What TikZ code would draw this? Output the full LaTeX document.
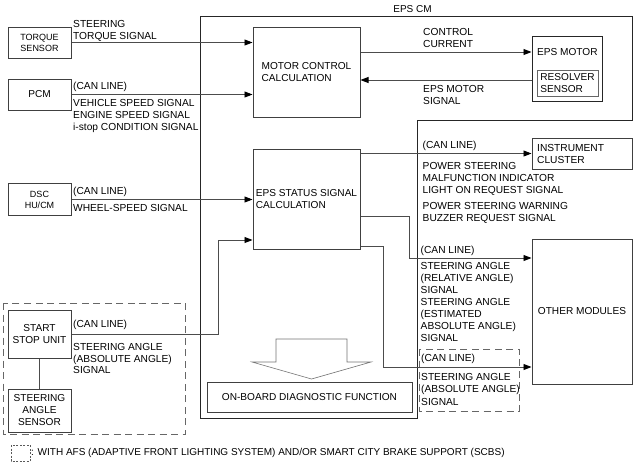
\documentclass[tikz,border=0pt]{standalone}
\usepackage{fontspec}
\setmainfont{Liberation Sans}
\usetikzlibrary{arrows.meta}
\begin{document}
\begin{tikzpicture}[x=1pt,y=-1pt,
  box/.style={draw=black!75, line width=1pt, inner sep=0pt, align=center,
    font=\fontsize{10.1}{12}\selectfont},
  smallbox/.style={box, font=\fontsize{9}{11}\selectfont},
  lbl/.style={font=\fontsize{10.2}{12}\selectfont, align=left, inner sep=0pt, anchor=north west},
  conn/.style={draw=black!70, line width=0.9pt},
  arr/.style={conn, -{Triangle[length=8pt,width=6pt,color=black]}},
  dashbox/.style={draw=black!60, line width=0.9pt, dash pattern=on 7pt off 4.5pt},
  frame/.style={draw=black!85, line width=1pt}]
\useasboundingbox (0,0) rectangle (634,464);

% EPS CM frame
\draw[frame] (200,16) -- (632,16) -- (632,120) -- (417,120) -- (417,418) -- (200,418) -- cycle;
\node[font=\fontsize{10}{12}\selectfont, inner sep=0pt] (epscm) at (412.5,9) {EPS CM};

% dashed optional groups
\draw[dashbox] (3,303) rectangle (185,434);
\draw[dashbox] (419,349) rectangle (519,411);

% left boxes
\node[smallbox, minimum width=63pt, minimum height=31pt] (torque) at (39.5,42.5) {TORQUE\\SENSOR};
\node[box, minimum width=63pt, minimum height=31pt] (pcm) at (39.5,94.5) {PCM};
\node[smallbox, minimum width=63pt, minimum height=32pt] (dsc) at (39.5,199.5) {DSC\\HU/CM};
\node[box, minimum width=63pt, minimum height=48pt] (ssu) at (39.5,334) {START\\STOP UNIT};
\node[box, minimum width=63pt, minimum height=43pt] (sas) at (39.5,410.5) {STEERING\\ANGLE\\SENSOR};

% inner EPS CM boxes
\node[box, align=left, minimum width=107pt, minimum height=90pt] (motor) at (306.5,72) {MOTOR CONTROL\\CALCULATION};
\node[box, align=left, minimum width=107pt, minimum height=100pt] (status) at (306.5,199) {EPS STATUS SIGNAL\\CALCULATION};
\node[box, minimum width=205pt, minimum height=30pt] (obd) at (309.5,397) {ON-BOARD DIAGNOSTIC FUNCTION};

% right boxes
\node[box, draw=black!85, minimum width=70pt, minimum height=65pt] (epsmotor) at (567,68.5) {};
\node[font=\fontsize{10.1}{12}\selectfont, inner sep=0pt, anchor=west] (epsmotortxt) at (537,52) {EPS MOTOR};
\node[box, align=left, draw=black!60, minimum width=61pt, minimum height=26pt] (resolver) at (567.5,83) {RESOLVER\\SENSOR};
\node[box, minimum width=100pt, minimum height=31pt] (instrument) at (582,153.5) {};
\node[lbl] (instrtxt) at (537,144.4) {INSTRUMENT\\CLUSTER};
\node[box, minimum width=100pt, minimum height=145pt] (other) at (582,311.5) {OTHER MODULES};

% block arrow
\draw[draw=black!55, line width=0.6pt, fill=white] (276,339) -- (347,339) -- (347,362) -- (371,362)
  -- (311.5,379) -- (252,362) -- (276,362) -- cycle;

% connectors
\draw[arr] (torque.east) -- (torque.east -| motor.west);
\draw[arr] (pcm.east) -- (pcm.east -| motor.west);
\draw[arr] (dsc.east) -- (dsc.east -| status.west);
\coordinate (j1) at (218,240);
\draw[arr] (ssu.east) -| (j1) -- (j1 -| status.west);
\draw[conn] (ssu.south) -- (sas.north);
\draw[arr] ([yshift=20pt]motor.east) coordinate (m1) -- (m1 -| epsmotor.west);
\draw[arr] ([yshift=-8pt]motor.east -| epsmotor.west) -- ([yshift=-8pt]motor.east);
\draw[arr] (instrument.west -| status.east) -- (instrument.west);
\coordinate (k1) at (409,258);
\draw[arr] ([yshift=-17pt]status.east) -| (k1) -- (k1 -| other.west);
\coordinate (k2) at (383,367);
\draw[arr] ([yshift=-47pt]status.east) -| (k2) -- (k2 -| other.west);

% labels
\node[lbl] (l1) at (73,20) {STEERING\\TORQUE SIGNAL};
\node[lbl] (l2) at (73,82) {(CAN LINE)};
\node[lbl] (l3) at (73,99.5) {VEHICLE SPEED SIGNAL\\ENGINE SPEED SIGNAL\\i-stop CONDITION SIGNAL};
\node[lbl] (l4) at (73,186.5) {(CAN LINE)};
\node[lbl] (l5) at (73,204.5) {WHEEL-SPEED SIGNAL};
\node[lbl] (l6) at (73,319.5) {(CAN LINE)};
\node[lbl, font=\fontsize{10.2}{11.5}\selectfont] (l7) at (73,343.5) {STEERING ANGLE\\(ABSOLUTE ANGLE)\\SIGNAL};
\node[lbl] (l8) at (423,28) {CONTROL\\CURRENT};
\node[lbl] (l9) at (423,84.7) {EPS MOTOR\\SIGNAL};
\node[lbl] (l10) at (422.5,140.5) {(CAN LINE)};
\node[lbl] (l11) at (422.5,162.5) {POWER STEERING\\MALFUNCTION INDICATOR\\LIGHT ON REQUEST SIGNAL};
\node[lbl] (l12) at (422.5,202) {POWER STEERING WARNING\\BUZZER REQUEST SIGNAL};
\node[lbl] (l13) at (420.5,245.7) {(CAN LINE)};
\node[lbl] (l14) at (420.5,261.7) {STEERING ANGLE\\(RELATIVE ANGLE)\\SIGNAL\\STEERING ANGLE\\(ESTIMATED\\ABSOLUTE ANGLE)\\SIGNAL};
\node[lbl] (l15) at (421,354) {(CAN LINE)};
\node[lbl, font=\fontsize{10.2}{12.5}\selectfont] (l16) at (421,373) {STEERING ANGLE\\(ABSOLUTE ANGLE)\\SIGNAL};

% legend
\draw[draw=black!65, line width=0.6pt, dash pattern=on 2pt off 1.5pt] (11,445) rectangle (30,461);
\node[font=\fontsize{10}{12}\selectfont, inner sep=0pt, anchor=west] (legend) at (31,453)
  {: WITH AFS (ADAPTIVE FRONT LIGHTING SYSTEM) AND/OR SMART CITY BRAKE SUPPORT (SCBS)};
\end{tikzpicture}
\end{document}
